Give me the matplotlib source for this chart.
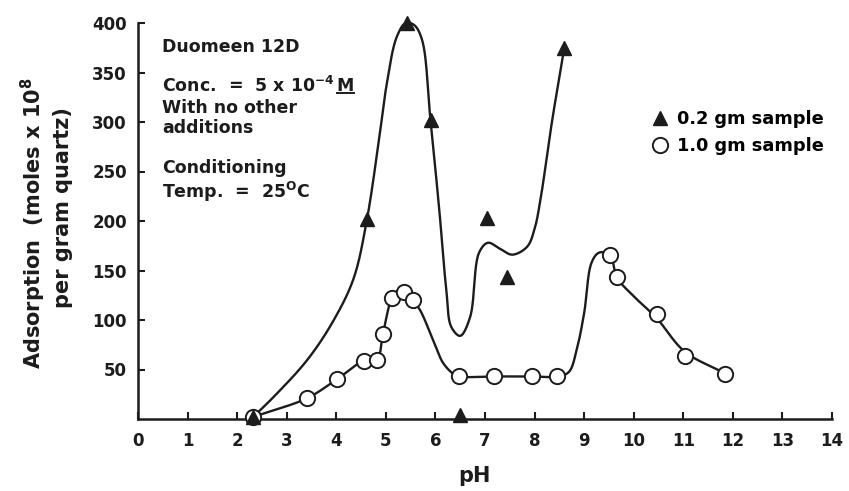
import numpy as np
import matplotlib
matplotlib.use("Agg")
from matplotlib import pyplot as plt
from matplotlib.lines import Line2D

plt.rcParams['font.family'] = ['DejaVu Sans']
plt.rcParams['font.weight'] = 'bold'
plt.rcParams['mathtext.default'] = 'bf'

# measured points, 0.2 gm sample (triangles)
ph_small = [2.32, 4.62, 5.42, 5.92, 6.5, 7.04, 7.44, 8.6]
ads_small = [2, 202, 400, 302, 4, 203, 143, 375]

# measured points, 1.0 gm sample (circles)
ph_large = [2.32, 3.41, 4.01, 4.56, 4.82, 4.94, 5.12, 5.36, 5.54,
            6.47, 7.18, 7.94, 8.45, 9.52, 9.66, 10.46, 11.03, 11.85]
ads_large = [2, 21, 40, 59, 60, 86, 122, 128, 120,
             43, 43, 43, 43, 166, 143, 106, 64, 45]

# hand drawn trend lines
curve_small_x = [2.32, 2.73, 3.42, 3.95, 4.35, 4.62, 4.88, 5.02, 5.22, 5.4,
                 5.57, 5.73, 5.9, 6.08, 6.22, 6.32, 6.5, 6.7, 6.88, 7.06,
                 7.3, 7.55, 7.85, 8.0, 8.12, 8.35, 8.6]
curve_small_y = [2, 22, 60, 100, 142, 202, 289, 339, 386, 400,
                 398, 383, 302, 210, 130, 93, 84, 103, 168, 178,
                 172, 166, 174, 192, 222, 300, 375]

curve_large_x = [2.32, 3.41, 4.01, 4.56, 4.82, 4.94, 5.12, 5.25, 5.4, 5.54,
                 5.69, 5.95, 6.15, 6.35, 6.47, 7.18, 7.94, 8.5, 8.7, 8.85,
                 9.0, 9.15, 9.3, 9.52, 9.66, 10.0, 10.46, 11.03, 11.85]
curve_large_y = [2, 21, 40, 59, 60, 86, 122, 130, 130, 120,
                 110, 80, 57, 46, 43, 43, 43, 43, 48, 70,
                 107, 158, 168, 166, 143, 124, 102, 68, 46]

xticks = list(range(0, 15))
yticks = [50, 100, 150, 200, 250, 300, 350, 400]

W, H = 849, 491
INK = '#1c1c1c'


def px(x, y):
    return x / W, 1 - y / H


def smooth(xs, ys, n=24, sx=49.6, sy=0.99):
    # centripetal catmull-rom, done in (roughly) screen units
    p = np.column_stack([np.asarray(xs) * sx, np.asarray(ys) * sy])
    p = np.vstack([2 * p[0] - p[1], p, 2 * p[-1] - p[-2]])
    out = []
    for i in range(1, len(p) - 2):
        p0, p1, p2, p3 = p[i - 1], p[i], p[i + 1], p[i + 2]
        t0 = 0.0
        t1 = t0 + np.linalg.norm(p1 - p0) ** 0.5
        t2 = t1 + np.linalg.norm(p2 - p1) ** 0.5
        t3 = t2 + np.linalg.norm(p3 - p2) ** 0.5
        t = np.linspace(t1, t2, n)[:, None]
        a1 = (t1 - t) / (t1 - t0) * p0 + (t - t0) / (t1 - t0) * p1
        a2 = (t2 - t) / (t2 - t1) * p1 + (t - t1) / (t2 - t1) * p2
        a3 = (t3 - t) / (t3 - t2) * p2 + (t - t2) / (t3 - t2) * p3
        b1 = (t2 - t) / (t2 - t0) * a1 + (t - t0) / (t2 - t0) * a2
        b2 = (t3 - t) / (t3 - t1) * a2 + (t - t1) / (t3 - t1) * a3
        c = (t2 - t) / (t2 - t1) * b1 + (t - t1) / (t2 - t1) * b2
        out.append(c if i == 1 else c[1:])
    c = np.vstack(out)
    return c[:, 0] / sx, c[:, 1] / sy


fig = plt.figure(figsize=(W / 100, H / 100), dpi=100)
ax = fig.add_axes([138 / W, 1 - 419 / H, (832 - 138) / W, (419 - 23) / H])

xs, ys = smooth(curve_small_x, curve_small_y)
ax.plot(xs, ys, color=INK, lw=1.7, zorder=2, clip_on=False)
xs, ys = smooth(curve_large_x, curve_large_y)
ax.plot(xs, ys, color=INK, lw=1.7, zorder=2, clip_on=False)

ax.plot(ph_large, ads_large, 'o', ms=11, mfc='white', mec=INK, mew=1.4,
        zorder=3, clip_on=False, label='1.0 gm sample')
ax.plot(ph_small, ads_small, '^', ms=10, color=INK, zorder=4,
        clip_on=False, label='0.2 gm sample')

ax.set_xlim(0, 14)
ax.set_ylim(0, 400)
ax.set_xticks(xticks)
ax.set_yticks(yticks)
ax.tick_params(direction='in', length=5, width=1.5, labelsize=12, colors=INK)
ax.tick_params(axis='x', pad=9)
ax.tick_params(axis='y', pad=8)
for s in ['top', 'right']:
    ax.spines[s].set_visible(False)
for s in ['left', 'bottom']:
    ax.spines[s].set_linewidth(1.8)
    ax.spines[s].set_color(INK)

h, l = ax.get_legend_handles_labels()
ax.legend(h[::-1], l[::-1], loc='upper left', bbox_to_anchor=px(652, 110),
          bbox_transform=fig.transFigure, frameon=False, fontsize=12.8,
          handlelength=0.9, handletextpad=0.5, labelspacing=0.5,
          borderpad=0, borderaxespad=0)

fig.text(*px(474, 476), 'pH', fontsize=15, ha='center', va='center', color=INK)
fig.text(*px(33, 223), 'Adsorption  (moles x 10$^{8}$', fontsize=15, rotation=90,
         ha='center', va='center', color=INK)
fig.text(*px(63, 208), 'per gram quartz)', fontsize=15, rotation=90,
         ha='center', va='center', color=INK)

notes = [('Duomeen 12D', 47), ('With no other', 108), ('additions', 128),
         ('Conditioning', 168), ('Temp.  =  25$^{O}$C', 192)]
for txt, y in notes:
    fig.text(*px(162, y), txt, fontsize=12.5, ha='left', va='center', color=INK)
conc = fig.text(*px(162, 86), 'Conc.  =  5 x 10$^{-4}$', fontsize=12.5, ha='left',
                va='center', color=INK)

fig.canvas.draw()
r = fig.canvas.get_renderer()
bb = conc.get_window_extent(r)
m = fig.text(bb.x1 / W + 2 / W, px(0, 86)[1], 'M', fontsize=12.5, ha='left',
             va='center', color=INK)
fig.canvas.draw()
mb = m.get_window_extent(r)
fig.add_artist(Line2D([mb.x0 / W, mb.x1 / W], [(mb.y0 + 2) / H, (mb.y0 + 2) / H],
                      color=INK, lw=1.4, transform=fig.transFigure))

fig.savefig('out.png', dpi=100)
